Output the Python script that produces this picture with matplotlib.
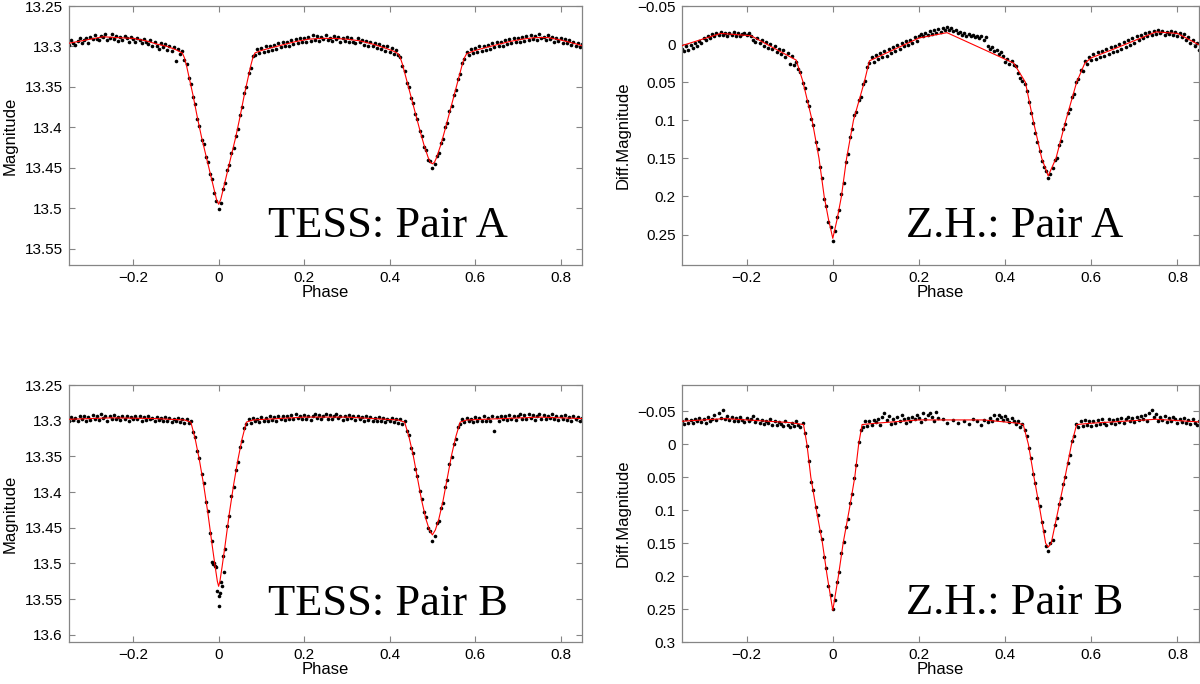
import numpy as np
import matplotlib
matplotlib.use("Agg")
import matplotlib.pyplot as plt
from matplotlib.ticker import FuncFormatter

nan = float("nan")

# ---------------- data (magnitudes in milli-mag) ----------------
PHASE_START = -0.35
PHASE_STEP = 0.005

# TESS Pair A: observed mmag relative to 13.300
tess_a_mmag = [
    -2, -8, -4, -2, -7, -11, -4, -8, -10, -4, -12, -9, -14, -9, -8, -13, -12, -16, -8, -10,
    -15, -9, -13, -7, -12, -8, -13, -10, -6, -12, -9, -5, -11, -8, -4, -9, -5, -3, -8, 0,
    -6, -1, 3, -4, 1, -3, 4, -1, 6, 1, 18, 3, 9, 5, 17, 22, 39, 46, 62, 71,
    89, 98, 115, 121, 136, 143, 158, 164, 181, 191, 201, 193, 176, 169, 153, 147, 132, 126, 110, 102,
    85, 75, 58, 50, 33, 26, 12, 11, 3, 8, 2, 7, 0, 5, -1, 4, -2, 3, -4, 1,
    -5, 0, -6, -1, -8, -3, -9, -4, -10, -5, -11, -6, -12, -7, -14, -8, -13, -7, -12, -9,
    -14, -8, -11, -7, -13, -9, -12, -6, -11, -7, -12, -5, -10, -6, -4, -10, -5, -8, -2, -7,
    -1, -6, 0, -4, 2, -3, 3, -1, 5, 0, 7, 2, 9, 4, 11, 13, 24, 30, 45, 50,
    64, 70, 84, 90, 105, 110, 124, 128, 140, 141, 150, 145, 135, 132, 119, 114, 100, 94, 80, 74,
    60, 54, 40, 34, 20, 16, 7, 10, 3, 8, 2, 7, 0, 5, -1, 4, -2, 3, -4, 1,
    -5, 0, -6, -1, -8, -3, -9, -4, -10, -5, -11, -6, -12, -7, -13, -8, -14, -9, -13, -8,
    -15, -10, -12, -8, -14, -9, -12, -6, -11, -7, -10, -4, -9, -4, -8, -2, -6, 0, -4, 1,
    -3,
]
tess_a_model = [
    (-0.35, -4), (-0.32, -7), (-0.29, -10), (-0.27, -12), (-0.24, -11), (-0.2, -10),
    (-0.17, -7), (-0.145, -3), (-0.12, 0), (-0.1, 4), (-0.085, 8), (-0.08, 14),
    (-0.075, 24), (-0.07, 36), (-0.06, 60), (-0.05, 87), (-0.04, 112), (-0.03, 134),
    (-0.02, 156), (-0.01, 178), (-0.005, 189), (0.0, 195), (0.005, 189), (0.01, 178),
    (0.02, 156), (0.03, 134), (0.04, 112), (0.05, 87), (0.06, 60), (0.07, 36),
    (0.075, 24), (0.08, 14), (0.085, 8), (0.1, 5), (0.12, 2), (0.15, -2), (0.18, -6),
    (0.21, -9), (0.24, -10), (0.27, -10), (0.3, -9), (0.33, -7), (0.36, -3), (0.39, 2),
    (0.41, 6), (0.42, 9), (0.425, 14), (0.43, 22), (0.44, 42), (0.45, 62), (0.46, 82),
    (0.47, 102), (0.48, 121), (0.49, 137), (0.495, 143), (0.5, 145), (0.505, 143),
    (0.51, 137), (0.52, 121), (0.53, 102), (0.54, 82), (0.55, 62), (0.56, 42),
    (0.57, 22), (0.575, 14), (0.58, 9), (0.6, 5), (0.62, 2), (0.65, -2), (0.68, -6),
    (0.71, -9), (0.74, -11), (0.77, -11), (0.8, -8), (0.83, -4), (0.85, -1),
]

# Z.H. Pair A: differential mmag
zh_a_mmag = [
    6, 9, 3, 8, 1, 5, -2, 2, -4, -1, -8, -5, -11, -8, -13, -10, -15, -12, -16, -12,
    -15, -11, -14, -12, -16, -11, -14, -10, -13, -15, -12, -14, -10, -6, -3, -8, -1, -5, 2, -3,
    5, 0, 7, 3, 10, 6, 13, 8, 17, 12, 26, 15, 28, 24, 33, 37, 51, 57, 75, 81,
    98, 106, 128, 138, 161, 176, 203, 212, 234, 240, 258, 246, 227, 218, 197, 182, 155, 144, 122, 112,
    93, 89, 73, 69, 53, 48, 30, 25, 17, 23, 14, 20, 12, 17, 9, 15, 7, 12, 4, 9,
    1, 6, -2, 3, -4, 1, -6, -1, -9, -4, -11, -13, -10, -15, -12, -17, -13, -18, -15, -20,
    -16, -21, -18, -22, -19, -21, -17, -19, -14, -16, -12, -14, -11, -13, -10, -12, -9, -11, -8, -10,
    -6, -9, 2, 6, 4, 9, 8, 13, 11, 16, 24, 19, 26, 22, 27, 29, 38, 44, 49, 53,
    62, 76, 90, 104, 117, 129, 141, 153, 161, 167, 176, 171, 163, 152, 149, 133, 127, 111, 105, 90,
    85, 70, 65, 50, 46, 34, 35, 22, 26, 17, 21, 13, 19, 11, 17, 9, 15, 7, 13, 4,
    11, 2, 9, 0, 6, -3, 4, -5, 1, -8, -2, -10, -5, -12, -8, -14, -10, -16, -12, -17,
    -13, -18, -14, -17, -12, -16, -13, -17, -12, -16, -11, -15, -9, -13, -5, -9, -2, -6, 3, -2,
    8,
]
zh_a_model = [
    (-0.35, 2), (-0.26, -14), (-0.19, -11), (-0.085, 21), (-0.07, 48), (-0.048, 100),
    (-0.032, 150), (-0.02, 200), (-0.01, 230), (0.0, 255), (0.01, 230), (0.02, 200),
    (0.032, 150), (0.048, 100), (0.073, 50), (0.085, 22), (0.2, -8), (0.265, -15),
    (0.42, 25), (0.447, 50), (0.465, 100), (0.485, 150), (0.5, 173), (0.518, 150),
    (0.541, 100), (0.566, 50), (0.585, 25), (0.6, 18), (0.65, 7), (0.75, -16),
    (0.8, -14), (0.85, 1),
]

# TESS Pair B: observed mmag relative to 13.300
tess_b_mmag = [
    0, -5, -1, -4, 1, -6, -2, -7, 0, -5, -1, -8, -3, -6, -1, -9, -4, -7, 0, -6,
    -3, -8, -2, -5, -1, -7, -3, -6, 0, -5, -2, -7, -3, -6, 0, -5, -1, -6, -2, -4,
    1, -5, -1, -4, 1, -5, 0, -4, 2, -3, 1, -4, 2, -2, 3, -2, 3, 0, 16, 23,
    43, 52, 75, 87, 114, 126, 157, 168, 200, 205, 245, 226, 190, 180, 148, 134, 106, 93, 69, 58,
    37, 28, 10, 5, -2, 3, -4, 1, -3, 2, -5, 0, -4, 1, -6, -1, -5, 0, -6, -2,
    -7, -1, -6, -2, -8, -3, -9, -4, -7, -2, -8, -3, -7, -1, -6, -9, -4, -8, -2, -7,
    -10, -3, -8, -2, -6, -9, -4, -7, -1, -6, -3, -8, -4, -7, -1, -6, -2, -5, 0, -6,
    -1, -5, 0, -4, 1, -5, 0, -4, 2, -3, 1, -4, 2, -3, 3, -2, 4, 0, 15, 20,
    38, 45, 67, 77, 99, 109, 128, 135, 151, 155, 168, 162, 144, 141, 122, 115, 93, 83, 61, 51,
    32, 25, 9, 5, -3, 2, -4, 1, -3, 2, -5, 0, -4, 1, -6, 0, -4, 1, -6, 14,
    -5, 0, -7, -2, -6, -1, -8, -3, -7, -1, -6, -10, -3, -8, -2, -9, -4, -8, -1, -7,
    -10, -3, -8, -2, -7, -4, -9, -2, -6, -1, -7, -3, -8, -1, -5, 0, -6, -2, -5, 0,
    -4,
]
tess_b_extra_phase = [-0.013, -0.008, -0.003, 0.002, 0.004, 0.008, -0.016, 0.012]
tess_b_extra_mmag = [201, 203, 238, 260, 242, 232, 198, 212]
tess_b_model = [
    (-0.35, -2), (-0.25, -4), (-0.15, -3), (-0.08, -1), (-0.065, 2), (-0.055, 25),
    (-0.045, 55), (-0.035, 90), (-0.025, 130), (-0.015, 175), (-0.008, 205),
    (-0.003, 225), (0.0, 232), (0.003, 225), (0.008, 205), (0.015, 175), (0.025, 130),
    (0.035, 90), (0.045, 55), (0.055, 25), (0.065, 2), (0.08, -1), (0.2, -5), (0.3, -5),
    (0.42, -1), (0.435, 2), (0.445, 22), (0.455, 48), (0.465, 80), (0.475, 112),
    (0.485, 138), (0.493, 153), (0.5, 160), (0.507, 153), (0.515, 138), (0.525, 112),
    (0.535, 80), (0.545, 48), (0.555, 22), (0.565, 2), (0.58, -1), (0.75, -5), (0.85, -3),
]

# Z.H. Pair B: differential mmag
zh_b_mmag = [
    -36, -31, -38, -33, -37, -32, -39, -35, -40, -34, -38, -33, -41, -36, -39, -44, -37, -47, -40, -52,
    -38, -43, -37, -41, -35, -40, -36, -42, -37, -34, -40, -35, -39, -43, -34, -38, -33, -37, -31, -36,
    -32, -38, -30, -35, -29, -34, -31, -28, -35, -30, -27, -33, -28, -35, -30, -27, -33, -17, 3, 25,
    57, 70, 95, 108, 132, 143, 171, 188, 215, 229, 250, 236, 209, 194, 165, 149, 126, 114, 89, 76,
    51, 31, -3, -22, -27, -35, -28, -36, -29, -37, -34, -38, -30, -42, -47, -37, -43, -31, -39, -33,
    -41, -36, -44, -38, -33, -40, -35, -42, -38, -45, -40, -34, -47, -39, -44, -48, -41, -36, -49, -40,
    nan, -38, nan, -32, nan, nan, -37, nan, -33, nan, nan, -36, nan, -31, nan, -38, nan, -35, nan, -30,
    -37, nan, -34, -40, -36, -44, -39, -45, -41, -37, -43, -38, -34, -40, -35, -31, -36, -26, -31, -21,
    -12, 6, 21, 45, 58, 82, 93, 118, 132, 155, 162, 150, 145, 123, 112, 91, 81, 60, 50, 28,
    16, -5, -13, -31, -27, -35, -28, -37, -29, -36, -28, -35, -30, -37, -31, -38, -32, -29, -39, -33,
    -37, -31, -38, -34, -40, -33, -39, -42, -35, -40, -34, -41, -37, -43, -38, -44, -36, -48, -52, -41,
    -46, -35, -42, -37, -43, -34, -40, -35, -41, -38, -33, -39, -34, -40, -32, -37, -31, -38, -33, -29,
    -36,
]
zh_b_model = [
    (-0.35, -35), (-0.25, -39), (-0.1, -33), (-0.068, -30), (-0.06, 0), (-0.051, 50),
    (-0.038, 100), (-0.024, 150), (-0.013, 200), (0.0, 252), (0.013, 200), (0.024, 150),
    (0.038, 100), (0.051, 50), (0.06, 0), (0.068, -30), (0.1, -32), (0.2, -37),
    (0.35, -37), (0.43, -32), (0.442, -30), (0.454, 0), (0.467, 50), (0.481, 100),
    (0.494, 150), (0.5, 156), (0.507, 150), (0.523, 100), (0.539, 50), (0.554, 0),
    (0.566, -30), (0.6, -32), (0.75, -38), (0.85, -34),
]

titles = ["TESS: Pair A", "Z.H.: Pair A", "TESS: Pair B", "Z.H.: Pair B"]
ylabels = ["Magnitude", "Diff.Magnitude", "Magnitude", "Diff.Magnitude"]
zero_points = [13.3, 0.0, 13.3, 0.0]
ylims = [(13.57, 13.25), (0.29, -0.05), (13.61, 13.25), (0.30, -0.09)]
yticks = [
    [13.25, 13.3, 13.35, 13.4, 13.45, 13.5, 13.55],
    [-0.05, 0, 0.05, 0.1, 0.15, 0.2, 0.25],
    [13.25, 13.3, 13.35, 13.4, 13.45, 13.5, 13.55, 13.6],
    [-0.05, 0, 0.05, 0.1, 0.15, 0.2, 0.25, 0.3],
]
xticks = [-0.2, 0, 0.2, 0.4, 0.6, 0.8]

# ---------------- figure ----------------
plt.rcParams["font.family"] = ["Liberation Sans", "DejaVu Sans"]
fig = plt.figure(figsize=(12, 6.84), dpi=100)

W, H = 1200.0, 684.0
boxes = [  # left, top, right, bottom in pixels
    (69, 6, 582, 265),
    (682, 6, 1199, 265),
    (69, 385, 582, 642),
    (682, 385, 1199, 642),
]
title_x = [0.387, 0.434, 0.387, 0.434]
title_y = [0.108, 0.1085, 0.105, 0.1085]

obs = [tess_a_mmag, zh_a_mmag, tess_b_mmag, zh_b_mmag]
models = [tess_a_model, zh_a_model, tess_b_model, zh_b_model]


def fmt(v, pos):
    s = f"{v:.6g}"
    if s in ("-0", "-0.0"):
        s = "0"
    return s.replace("-", "\u2212")


edge = "#858585"
for k in range(4):
    l, t, r, b = boxes[k]
    ax = fig.add_axes([l / W, 1 - b / H, (r - l) / W, (b - t) / H])
    zp = zero_points[k]
    vals = np.array(obs[k], dtype=float)
    ph = PHASE_START + PHASE_STEP * np.arange(len(vals))
    ax.plot(ph, zp + vals / 1000.0, "o", color="black", markersize=2.6,
            markeredgewidth=0, zorder=2)
    if k == 2:
        ax.plot(tess_b_extra_phase, zp + np.array(tess_b_extra_mmag) / 1000.0, "o",
                color="black", markersize=2.6, markeredgewidth=0, zorder=2)
    mp = [p for p, _ in models[k]]
    mv = [zp + v / 1000.0 for _, v in models[k]]
    ax.plot(mp, mv, color="#ff0000", linewidth=0.8, zorder=3)

    ax.set_xlim(-0.35, 0.85)
    ax.set_ylim(*ylims[k])
    ax.set_xticks(xticks)
    ax.set_yticks(yticks[k])
    ax.xaxis.set_major_formatter(FuncFormatter(fmt))
    ax.yaxis.set_major_formatter(FuncFormatter(fmt))
    ax.tick_params(direction="in", length=4, width=0.8, color=edge,
                   top=True, right=True, labelsize=11, labelcolor="black", pad=4.5)
    for s in ax.spines.values():
        s.set_color(edge)
        s.set_linewidth(0.9)
    ax.set_xlabel("Phase", fontsize=12, labelpad=0)
    ax.set_ylabel(ylabels[k], fontsize=12, labelpad=5)
    ax.text(title_x[k], title_y[k], titles[k], transform=ax.transAxes,
            ha="left", va="baseline", fontsize=32,
            family=["Liberation Serif", "DejaVu Serif"], color="black")

fig.savefig("out.png", dpi=100)
